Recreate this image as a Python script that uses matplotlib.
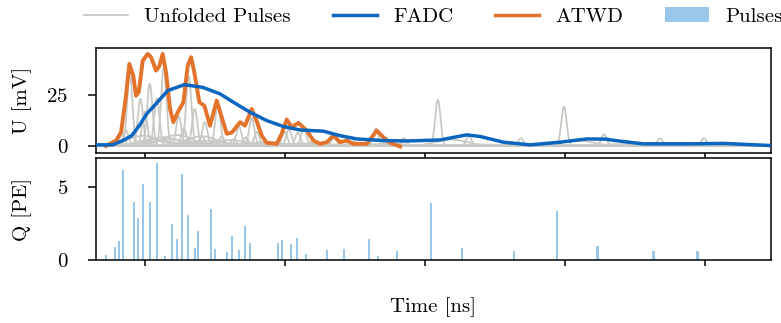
import numpy as np
import matplotlib
matplotlib.use("Agg")
import matplotlib.pyplot as plt
from matplotlib.patches import Patch
from matplotlib.lines import Line2D

plt.rcParams['font.family'] = ['cmr10', 'DejaVu Serif']
plt.rcParams['axes.formatter.use_mathtext'] = True
FS = 15

# ---- data ----
# reconstructed pulses: time [ns], charge [PE]
pulse_t = [72.1, 78.8, 81.6, 84.5, 92.1, 95.2, 98.8, 103.8, 108.8, 114.5,
           119.5, 123.1, 126.6, 130.9, 135.9, 138.1, 147.4, 150.2, 158.8, 162.4,
           167.4, 171.6, 175.2, 177.4, 195.2, 198.1, 204.5, 208.8, 215.2, 230.2,
           242.4, 260.2, 266.6, 280.2, 304.5, 326.6, 363.8, 394.5, 423.1, 463.1,
           494.5]
pulse_q = [0.37, 0.92, 1.33, 6.2, 4.0, 2.9, 5.25, 4.0, 6.63, 0.3,
           2.5, 1.47, 5.87, 3.12, 0.85, 2.02, 3.53, 0.78, 0.57, 1.67,
           0.71, 2.36, 1.19, 0.09, 1.19, 1.4, 1.12, 1.54, 0.44, 0.71,
           0.78, 1.47, 0.3, 0.64, 3.88, 0.85, 0.64, 3.33, 0.99, 0.64,
           0.64]

# ATWD waveform
atwd_t = [72.1, 79.3, 82.9, 86.4, 88.8, 91.6, 93.6, 95.5, 98.4, 101.9,
          104.3, 107.9, 110.2, 112.6, 115.0, 117.9, 120.2, 123.4, 127.4, 130.5,
          132.9, 135.2, 138.8, 142.4, 146.4, 151.2, 154.8, 158.4, 161.9, 167.9,
          171.4, 176.2, 179.8, 183.4, 186.9, 194.1, 197.6, 201.2, 204.8, 209.5,
          215.5, 220.2, 225.0, 229.8, 234.5, 239.3, 244.1, 248.8, 258.4, 265.5,
          270.2, 275.0, 282.1]
atwd_v = [0.0, 2.6, 6.7, 24.6, 40.2, 34.5, 24.6, 26.3, 41.8, 45.1,
          43.5, 36.9, 39.2, 45.1, 36.1, 18.1, 11.6, 16.5, 21.4, 39.4,
          43.5, 36.1, 21.4, 19.7, 9.9, 22.2, 14.0, 5.9, 6.5, 11.6,
          9.9, 18.1, 12.0, 5.0, 1.5, 1.0, 6.0, 12.9, 9.1, 11.3,
          7.5, 2.6, 1.0, 1.8, 5.0, 1.8, 2.6, 1.0, 1.0, 7.5,
          4.2, 1.5, -0.3]

# FADC waveform
fadc_t = [65.0, 76.9, 84.1, 90.5, 95.9, 101.2, 106.6, 116.2, 128.1, 141.2,
          153.6, 163.1, 175.0, 186.9, 198.8, 210.7, 227.4, 239.3, 251.2, 270.2,
          286.9, 296.4, 310.7, 329.8, 339.3, 355.9, 375.0, 396.4, 415.5, 428.6,
          441.6, 455.9, 489.3, 513.1, 548.8]
fadc_v = [0.5, 0.5, 2.6, 5.0, 9.9, 15.7, 19.7, 27.1, 30.0, 28.7,
          25.5, 21.4, 16.5, 12.4, 9.5, 7.8, 7.2, 5.0, 3.4, 2.6,
          2.4, 2.6, 2.9, 5.4, 4.6, 1.8, 0.5, 1.8, 3.4, 3.3,
          2.1, 1.0, 1.0, 1.2, 0.1]

# unfolded pulse template parameters
mv_per_pe = 5.8
narrow_shift, narrow_sigma = 4.6, 1.9
broad_mv_per_pe, broad_shift, broad_sigma = 0.8, 14.0, 11.0

GRAY = '#c9c9c4'
BLUE = '#0a66bf'
ORANGE = '#e3722a'
LIGHT = '#9ac6ea'

W, H = 781, 323
fig = plt.figure(figsize=(W/100, H/100), dpi=100)
ax1 = fig.add_axes([96/W, 1-153/H, 675/W, 105/H])
ax2 = fig.add_axes([96/W, 1-260/H, 675/W, 102/H], sharex=ax1)

tgrid = np.linspace(65, 548, 3000)
for t0, q in zip(pulse_t, pulse_q):
    y_narrow = q*mv_per_pe*np.exp(-0.5*((tgrid-t0-narrow_shift)/narrow_sigma)**2)
    y_broad = q*broad_mv_per_pe*np.exp(-0.5*((tgrid-t0-broad_shift)/broad_sigma)**2)
    ax1.plot(tgrid, y_broad, color=GRAY, lw=1.3, zorder=1)
    ax1.plot(tgrid, y_narrow, color=GRAY, lw=1.3, zorder=1)

ax1.plot(fadc_t, fadc_v, color=BLUE, lw=2.5, zorder=3, solid_joinstyle='round')
ax1.plot(atwd_t, atwd_v, color=ORANGE, lw=2.8, zorder=2, solid_joinstyle='round')

ax2.bar(pulse_t, pulse_q, width=1.5, color=LIGHT, zorder=2)

ax1.set_xlim(65, 547)
ax1.set_ylim(-3.5, 48)
ax2.set_ylim(0, 7.0)
ax1.set_yticks([0, 25])
ax2.set_yticks([0, 5])
ax1.set_xticks([100, 200, 300, 400, 500])
for ax in (ax1, ax2):
    ax.tick_params(axis='y', direction='out', length=6, width=1.1, labelsize=FS, pad=14)
    ax.tick_params(axis='x', direction='out', length=4.5, width=1.1, labelbottom=False)
    for s in ax.spines.values():
        s.set_linewidth(1.1)
ax1.set_ylabel('U [mV]', fontsize=FS)
ax2.set_ylabel('Q [PE]', fontsize=FS)
ax2.set_xlabel('Time [ns]', fontsize=FS)
ax1.yaxis.set_label_coords((32-96)/675, 0.5)
ax2.yaxis.set_label_coords((32-96)/675, 0.5)
ax2.xaxis.set_label_coords(0.5, (260-297)/102)

handles = [Line2D([], [], color=GRAY, lw=1.3),
           Line2D([], [], color=BLUE, lw=2.5),
           Line2D([], [], color=ORANGE, lw=2.5),
           Patch(facecolor=LIGHT, edgecolor='none')]
labels = ['Unfolded Pulses', 'FADC', 'ATWD', 'Pulses']
fig.legend(handles, labels, loc='center', bbox_to_anchor=(433.5/W, 1-16.5/H),
           ncol=4, frameon=False, fontsize=FS, columnspacing=2.0,
           handlelength=2.1, handletextpad=0.8, borderaxespad=0.0, borderpad=0.0)

fig.savefig('out.png', dpi=100)
